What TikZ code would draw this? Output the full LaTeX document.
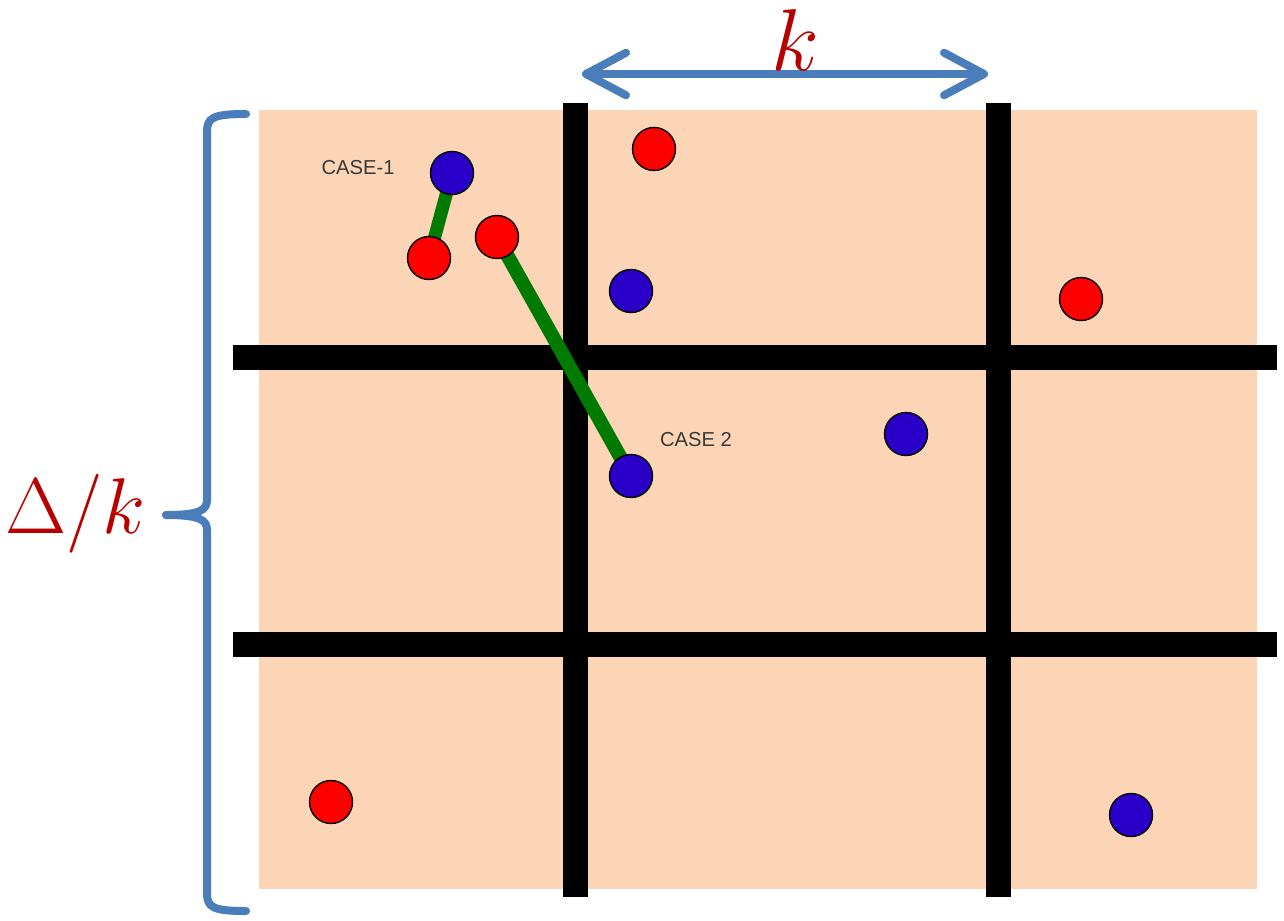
\RequirePackage{fix-cm}
\documentclass[tikz,border=0pt]{standalone}
\usepackage{fontspec}
\newfontfamily\labelfont{Liberation Sans}
\usetikzlibrary{arrows.meta}
\definecolor{peach}{HTML}{FBD5B5}
\definecolor{dotblue}{HTML}{2A00C8}
\definecolor{dotred}{HTML}{FF0000}
\definecolor{edgegreen}{HTML}{007A00}
\definecolor{markblue}{HTML}{4A7EBB}
\definecolor{labelred}{HTML}{B80000}
\definecolor{casegray}{HTML}{3A3A3A}
\pgfdeclarelayer{bg}
\pgfsetlayers{bg,main}
\tikzset{
  dot/.style={circle, draw=black, line width=0.8pt, minimum size=0.86cm, inner sep=0pt},
  bluedot/.style={dot, fill=dotblue},
  reddot/.style={dot, fill=dotred},
  gridline/.style={line width=0.5cm, black},
  pairline/.style={edgegreen, line width=0.26cm},
  measure/.style={markblue, line width=0.16cm, line cap=round, line join=round},
  caselabel/.style={font=\labelfont\fontsize{11.5}{13}\selectfont, text=casegray, inner sep=0pt},
  biglabel/.style={text=labelred, inner sep=0pt, font=\fontsize{50}{60}\selectfont},
  sidelabel/.style={biglabel, font=\fontsize{45}{54}\selectfont}
}
\begin{document}
\begin{tikzpicture}[x=0.02cm, y=-0.02cm]
\useasboundingbox (0,0) rectangle (1284,920);
% points
\node[bluedot] (b1) at (452,173) {};
\node[bluedot] (b2) at (631,291) {};
\node[bluedot] (b3) at (906,434) {};
\node[bluedot] (b4) at (631,476) {};
\node[bluedot] (b5) at (1131,815) {};
\node[reddot] (r1) at (654,149) {};
\node[reddot] (r2) at (429,258) {};
\node[reddot] (r3) at (497,237) {};
\node[reddot] (r4) at (1081,299) {};
\node[reddot] (r5) at (331,802) {};
% grid coordinates
\coordinate (v1t) at (575,103); \coordinate (v1b) at (575,897);
\coordinate (v2t) at (998,103); \coordinate (v2b) at (998,897);
\coordinate (h1l) at (233,357); \coordinate (h1r) at (1277,357);
\coordinate (h2l) at (233,644); \coordinate (h2r) at (1277,644);
\begin{pgfonlayer}{bg}
  \fill[peach] (259,110) rectangle (1257,889);
  \draw[gridline] (v1t) -- (v1b);
  \draw[gridline] (v2t) -- (v2b);
  \draw[gridline] (h1l) -- (h1r);
  \draw[gridline] (h2l) -- (h2r);
  \draw[pairline] (b1.center) -- (r2.center);
  \draw[pairline, line width=0.28cm] (r3.center) -- (b4.center);
\end{pgfonlayer}
% labels
\node[caselabel] (c1) at (358,168) {CASE-1};
\node[caselabel] (c2) at (696,440) {CASE 2};
% k arrow
\coordinate (al) at (582,74);
\coordinate (ar) at (988,74);
\draw[measure, {Straight Barb[length=0.8cm, width=0.85cm, round]}-{Straight Barb[length=0.8cm, width=0.85cm, round]}] (al) -- (ar);
\node[biglabel] (klab) at (795,40) {$k$};
% brace
\coordinate (bt) at (246,114);
\coordinate (bb) at (246,911);
\coordinate (btip) at (166,515);
\draw[measure] (bt) .. controls (212,114) and (207,118) .. (207,132) -- (207,500)
  .. controls (207,510) and (200,515) .. (btip);
\draw[measure] (btip) .. controls (200,515) and (207,520) .. (207,530) -- (207,893)
  .. controls (207,907) and (212,911) .. (bb);
\node[sidelabel, anchor=east] (dlab) at (146,514) {$\Delta/k$};
\end{tikzpicture}
\end{document}
